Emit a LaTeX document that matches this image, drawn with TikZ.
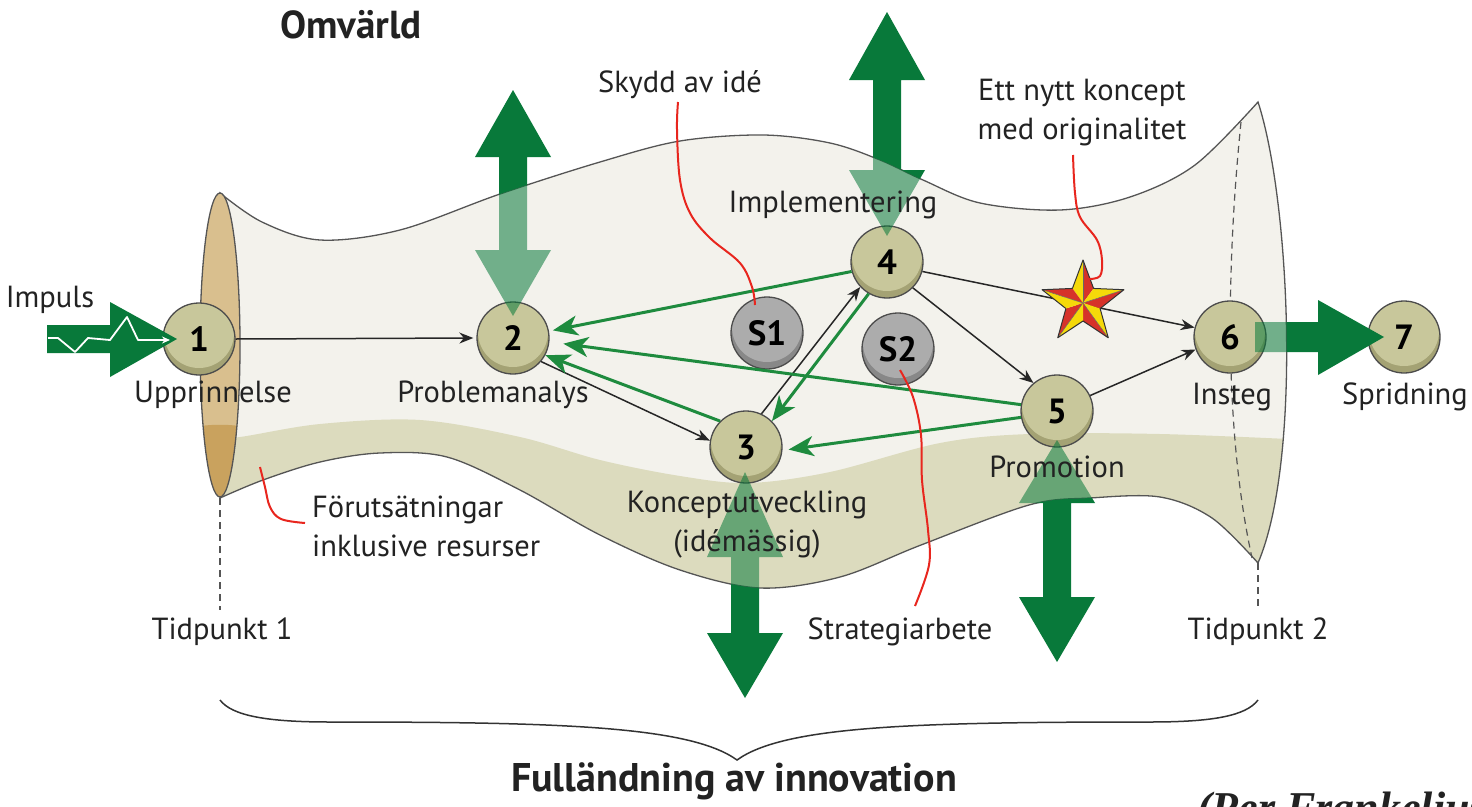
\documentclass[tikz,border=0pt]{standalone}
\usepackage{fontspec}
\setmainfont{PT Sans}
\newfontfamily\citefont{Liberation Serif}
\usetikzlibrary{arrows.meta}
\definecolor{cream}{HTML}{F3F2EC}
\definecolor{bandc}{HTML}{DCDBBE}
\definecolor{tanL}{HTML}{D9BF8E}
\definecolor{tanD}{HTML}{C9A25E}
\definecolor{ballL}{HTML}{C8C79B}
\definecolor{ballD}{HTML}{A4A274}
\definecolor{grayL}{HTML}{ACACAC}
\definecolor{grayD}{HTML}{888888}
\definecolor{dkgreen}{HTML}{08793A}
\definecolor{lgreen}{HTML}{1E8B3E}
\definecolor{outl}{HTML}{555555}
\definecolor{redl}{HTML}{E8261E}
\definecolor{starY}{HTML}{F5D90A}
\definecolor{starR}{HTML}{D6322A}
\definecolor{txt}{HTML}{222222}
\tikzset{
  tubepath/.style={insert path={plot[smooth,tension=0.55] coordinates {(220,193)(262,222)(320,240)(400,230)(500,194)(600,162)(680,141)(763,135)(830,143)(880,160)(923,180)(980,203)(1060,210)(1130,197)(1195,165)(1258,102)} .. controls (1290,200) and (1302,460) .. (1258,563) -- plot[smooth,tension=0.55] coordinates {(1258,563)(1212,518)(1160,497)(1090,498)(1029,505)(921,545)(840,577)(760,588)(680,570)(600,535)(520,490)(447,457)(380,453)(320,462)(263,480)(220,498)} -- cycle}},
  bigarrows/.style={insert path={
    (513,90) -- (551,157) -- (527,157) -- (527,250) -- (551,250) -- (513,316) -- (475,250) -- (499,250) -- (499,157) -- (475,157) -- cycle
    (887,12) -- (925,80) -- (901,80) -- (901,170) -- (925,170) -- (887,236) -- (849,170) -- (873,170) -- (873,80) -- (849,80) -- cycle
    (745,472) -- (783,557) -- (759,557) -- (759,633) -- (783,633) -- (745,698) -- (707,633) -- (731,633) -- (731,557) -- (707,557) -- cycle
    (1057,440) -- (1095,503) -- (1071,503) -- (1071,597) -- (1095,597) -- (1057,662) -- (1019,597) -- (1043,597) -- (1043,503) -- (1019,503) -- cycle
    (47,325) -- (110,325) -- (110,302) -- (177,339) -- (110,377) -- (110,353) -- (47,353) -- cycle
    (1255,322) -- (1318,322) -- (1318,300) -- (1384,337) -- (1318,375) -- (1318,352) -- (1255,352) -- cycle}},
  ball/.style={circle, draw=black!70, line width=1.3pt, minimum size=72pt, inner sep=0pt, fill=ballD,
    path picture={\fill[ballL] ([yshift=6pt]path picture bounding box.center) circle[radius=35pt];},
    font=\bfseries\fontsize{35}{35}\selectfont, text=black},
  sball/.style={ball, fill=grayD,
    path picture={\fill[grayL] ([yshift=6pt]path picture bounding box.center) circle[radius=35pt];},
    font=\bfseries\fontsize{35}{35}\selectfont},
  lbl/.style={font=\fontsize{30.5}{39}\selectfont, text=txt, inner sep=0pt, align=center},
  blk/.style={draw=black!85, line width=1.5pt, -{Stealth[length=14pt,width=11pt]}},
  grn/.style={draw=lgreen, line width=3pt, -{Stealth[length=25pt,width=20pt,inset=7pt]}},
  redline/.style={draw=redl, line width=2pt},
}
\begin{document}
\begin{tikzpicture}[x=1pt,y=-1pt]
\useasboundingbox (0,0) rectangle (1472,806);
\fill[white] (0,0) rectangle (1472,806);
% tube
\fill[cream][tubepath];
\begin{scope}
\clip[tubepath];
\fill[bandc] plot[smooth,tension=0.55] coordinates {(200,440)(240,437)(320,424)(420,420)(520,437)(600,460)(680,476)(748,483)(830,472)(940,443)(1029,434)(1160,434)(1310,440)} -- (1310,720) -- (200,720) -- cycle;
\end{scope}
\draw[outl, line width=1.3pt][tubepath];
\draw[outl, line width=1.2pt, dash pattern=on 7pt off 5pt] (1241,122) .. controls (1228,250) and (1222,420) .. (1252,558);
\draw[outl, line width=1.2pt, dash pattern=on 7pt off 5pt] (220,498) -- (220,610);
\draw[outl, line width=1.2pt, dash pattern=on 7pt off 5pt] (1258,563) -- (1258,606);
% left opening
\fill[tanL] (220,345) ellipse [x radius=20, y radius=152];
\begin{scope}
\clip (220,345) ellipse [x radius=20, y radius=152];
\fill[tanD] (195,427) .. controls (210,424) and (230,424) .. (245,427) -- (245,510) -- (195,510) -- cycle;
\end{scope}
\draw[outl, line width=1.3pt] (220,345) ellipse [x radius=20, y radius=152];
% brace
\draw[black!80, line width=1.5pt] (220,700) .. controls (232,716) and (268,722) .. (330,722) .. controls (560,722) and (690,726) .. (737,760) .. controls (784,726) and (914,722) .. (1150,722) .. controls (1212,722) and (1246,716) .. (1258,700);
% nodes
\node[ball] (n1) at (199,339) {1};
\node[ball] (n2) at (513,338) {2};
\node[ball] (n3) at (746,447) {3};
\node[ball] (n4) at (887,262) {4};
\node[ball] (n5) at (1057,411) {5};
\node[ball] (n6) at (1230,337) {6};
\node[ball] (n7) at (1404,337) {7};
\node[sball] (s1) at (767,333) {S1};
\node[sball] (s2) at (898,349) {S2};
\coordinate (star) at (1083,303);
% thin arrows
\draw[blk] (n1.east) -- ([xshift=-3pt]n2.west);
\draw[blk] (n2.-40) -- (n3.170);
\draw[blk] (n3.65) -- (n4.223);
\draw[blk] (n4.-15) -- (n6.165);
\draw[blk] (n4.-45) -- (n5.130);
\draw[blk] (n5.25) -- (n6.200);
\draw[grn] (n4.195) -- ([xshift=4pt]n2.12);
\draw[grn] (n4.240) -- (n3.45);
\draw[grn] (n3.135) -- (n2.-28);
\draw[grn, shorten >=14pt] (n5.170) -- (n2.-6);
\draw[grn] (n5.190) -- ([xshift=6pt]n3.-4);
% star
\begin{scope}[shift={(star)}]
\foreach \a in {270,342,54,126,198} {
  \fill[starR] (0,0) -- (\a:43) -- (\a+36:18) -- cycle;
  \fill[starY] (0,0) -- (\a:43) -- (\a-36:18) -- cycle;
  \draw[black!60, line width=0.5pt] (0,0) -- (\a:43);
}
\draw[black!80, line width=1pt, line join=round] (270:43) -- (306:18) -- (342:43) -- (18:18) -- (54:43) -- (90:18) -- (126:43) -- (162:18) -- (198:43) -- (234:18) -- cycle;
\end{scope}
% red annotation lines
\draw[redline] plot[smooth,tension=0.6] coordinates {(678,102)(677,130)(680,180)(690,213)(710,238)(740,263)(752,287)(755,305)};
\draw[redline] plot[smooth,tension=0.6] coordinates {(900,370)(913,397)(921,435)(922,480)(928,530)(929,565)(915,606)};
\draw[redline] plot[smooth,tension=0.6] coordinates {(1073,155)(1075,193)(1080,217)(1097,240)(1102,260)(1100,276)(1089,279)};
\draw[redline] plot[smooth,tension=0.6] coordinates {(260,467)(265,487)(270,507)(281,519)(305,523)};
% big arrows
\begin{scope}
\clip[tubepath];
\fill[dkgreen, fill opacity=0.55][bigarrows];
\end{scope}
\begin{scope}
\clip (-10,-10) -- (-10,820) -- (1500,820) -- (1500,-10) -- cycle [tubepath];
\fill[dkgreen][bigarrows];
\end{scope}
\draw[white, line width=1.8pt, line join=round, -{Stealth[length=8pt,width=7pt]}] (48,338) -- (58,338) -- (75,352) -- (88,338) -- (110,340) -- (127,317) -- (138,340) -- (170,340);
% labels
\node[lbl, font=\bfseries\fontsize{39}{39}\selectfont] (omv) at (351,25) {Omvärld};
\node[lbl] (limp) at (50,300) {Impuls};
\node[lbl] (l1) at (213,395) {Upprinnelse};
\node[lbl] (l2) at (493,395) {Problemanalys};
\node[lbl] (lsk) at (680,85) {Skydd av idé};
\node[lbl] (l4) at (833,205) {Implementering};
\node[lbl] (lett) at (1082,113) {Ett nytt koncept\\med originalitet};
\node[lbl] (l3) at (747,525) {Konceptutveckling\\(idémässig)};
\node[lbl] (l5) at (1057,467) {Promotion};
\node[lbl] (l6) at (1232,397) {Insteg};
\node[lbl] (l7) at (1405,397) {Spridning};
\node[lbl, anchor=west, align=left] (lfor) at (312,526) {Förutsätningar\\inklusive resurser};
\node[lbl] (lt1) at (222,632) {Tidpunkt 1};
\node[lbl] (lstr) at (900,632) {Strategiarbete};
\node[lbl] (lt2) at (1258,632) {Tidpunkt 2};
\node[lbl, font=\bfseries\fontsize{40}{40}\selectfont] (lfull) at (734,781) {Fulländning av innovation};
\node[anchor=base west, inner sep=0pt, text=txt, font=\citefont\bfseries\itshape\fontsize{44}{44}\selectfont] (cite) at (1197,822) {(Per Frankelius};
\end{tikzpicture}
\end{document}
